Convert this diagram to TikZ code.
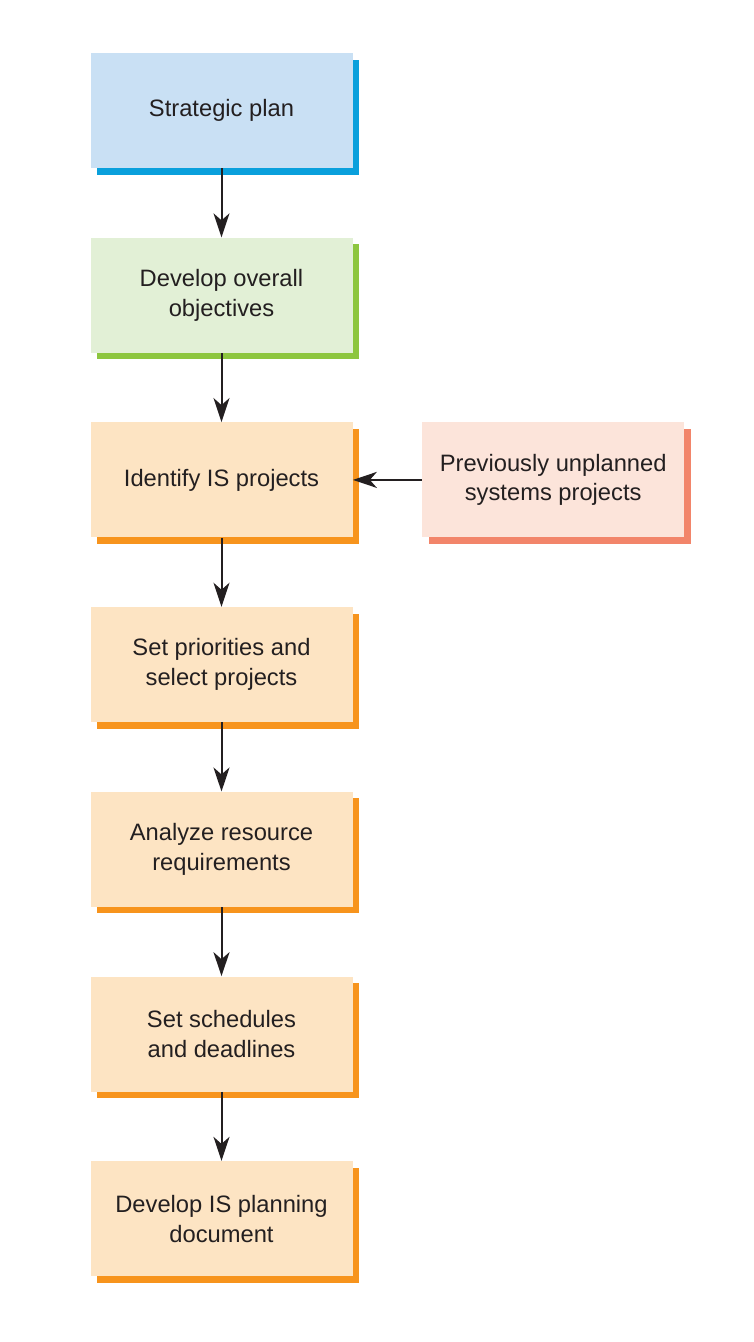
\documentclass[tikz,border=0pt]{standalone}
\usepackage{fontspec}
\setmainfont{Liberation Sans}
\usetikzlibrary{positioning}
\usetikzlibrary{arrows.meta}
\usetikzlibrary{shadows}
\definecolor{txtcol}{HTML}{231F20}
\definecolor{bluefill}{HTML}{C9E0F4}
\definecolor{blueedge}{HTML}{0AA0DC}
\definecolor{greenfill}{HTML}{E2F0D6}
\definecolor{greenedge}{HTML}{8DC63F}
\definecolor{orangefill}{HTML}{FDE4C3}
\definecolor{orangeedge}{HTML}{F7941D}
\definecolor{pinkfill}{HTML}{FCE4DA}
\definecolor{pinkedge}{HTML}{F2856A}

\begin{document}
\begin{tikzpicture}[node distance=1.38cm,
		box/.style={minimum width=5.24cm, minimum height=2.3cm, align=center,
			text=txtcol, font=\fontsize{13.5}{17}\selectfont, inner sep=0pt},
		planbox/.style={box, fill=bluefill, general shadow={fill=blueedge, shadow xshift=0.13cm, shadow yshift=-0.13cm}},
		goalbox/.style={box, fill=greenfill, general shadow={fill=greenedge, shadow xshift=0.13cm, shadow yshift=-0.13cm}},
		stepbox/.style={box, fill=orangefill, general shadow={fill=orangeedge, shadow xshift=0.13cm, shadow yshift=-0.13cm}},
		extbox/.style={box, fill=pinkfill, general shadow={fill=pinkedge, shadow xshift=0.13cm, shadow yshift=-0.13cm}},
		flow/.style={-{Stealth[length=0.48cm, width=0.32cm, inset=0.14cm]}, line width=0.04cm, txtcol}]
		\useasboundingbox (0,0) rectangle (15.06,-26.84);
		\node (plan) [planbox] at (4.43,-2.21) {Strategic plan};
		\node (goals) [goalbox, below = of plan] {Develop overall\\objectives};
		\node (ident) [stepbox, below = of goals] {Identify IS projects};
		\node (unpl) [extbox, right = of ident] {Previously unplanned\\systems projects};
		\node (prio) [stepbox, below = of ident] {Set priorities and\\select projects};
		\node (res) [stepbox, below = of prio] {Analyze resource\\requirements};
		\node (sched) [stepbox, below = of res] {Set schedules\\and deadlines};
		\node (doc) [stepbox, below = of sched] {Develop IS planning\\document};
		\draw [flow] (plan) -- (goals);
		\draw [flow] (goals) -- (ident);
		\draw [flow] (unpl) -- (ident);
		\draw [flow] (ident) -- (prio);
		\draw [flow] (prio) -- (res);
		\draw [flow] (res) -- (sched);
		\draw [flow] (sched) -- (doc);
\end{tikzpicture}
\end{document}
